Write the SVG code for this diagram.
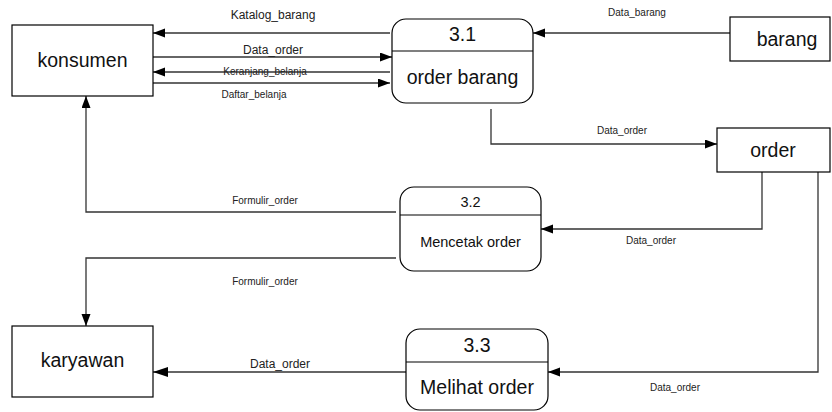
<svg xmlns="http://www.w3.org/2000/svg" width="832" height="412" viewBox="0 0 832 412">
  <style>
    .box { fill: #fff; stroke: #000; stroke-width: 1.2; }
    .flow { fill: none; stroke: #333; stroke-width: 1.3; }
    .name { font-family: "Liberation Sans", Arial, sans-serif; font-size: 19.5px; fill: #111; text-anchor: middle; }
    .pname { font-family: "Liberation Sans", Arial, sans-serif; font-size: 14.5px; fill: #111; text-anchor: middle; }
    .lbl { font-family: "Liberation Sans", Arial, sans-serif; font-size: 10px; fill: #222; text-anchor: middle; }
    .lbl12 { font-family: "Liberation Sans", Arial, sans-serif; font-size: 12px; fill: #222; text-anchor: middle; }
  </style>
  <defs>
    <marker id="arrow" markerUnits="userSpaceOnUse" markerWidth="13" markerHeight="10" refX="12" refY="4.5" orient="auto">
      <path d="M0,0 L12,4.5 L0,9 z" fill="#000"/>
    </marker>
    <marker id="arrow-lg" markerUnits="userSpaceOnUse" markerWidth="16" markerHeight="11" refX="15" refY="5" orient="auto">
      <path d="M0,0 L15,5 L0,10 z" fill="#000"/>
    </marker>
  </defs>
  <rect width="832" height="412" fill="#fff"/>

  <!-- data flows -->
  <g id="connectors">
    <path class="flow" d="M390,33 H153" marker-end="url(#arrow)"/>
    <path class="flow" d="M153,57 H392" marker-end="url(#arrow)"/>
    <path class="flow" d="M390,72 H153" marker-end="url(#arrow)"/>
    <path class="flow" d="M153,83 H390" marker-end="url(#arrow)"/>
    <path class="flow" d="M730,33 H533" marker-end="url(#arrow)"/>
    <path class="flow" d="M491,109 V144 H717" marker-end="url(#arrow)"/>
    <path class="flow" d="M762,172 V229 H541" marker-end="url(#arrow)"/>
    <path class="flow" d="M818,172 V372 H548" marker-end="url(#arrow)"/>
    <path class="flow" d="M396,212 H86 V96" marker-end="url(#arrow)"/>
    <path class="flow" d="M396,258 H86 V326" marker-end="url(#arrow)"/>
    <path class="flow" d="M406,372 H153" marker-end="url(#arrow-lg)"/>

    <text class="lbl12" x="273" y="19">Katalog_barang</text>
    <text class="lbl12" x="273" y="53.5">Data_order</text>
    <text class="lbl" x="265" y="74.5">Keranjang_belanja</text>
    <text class="lbl" x="254" y="98">Daftar_belanja</text>
    <text class="lbl" x="637" y="15.5">Data_barang</text>
    <text class="lbl" x="622" y="134">Data_order</text>
    <text class="lbl" x="651" y="243.5">Data_order</text>
    <text class="lbl" x="265" y="204">Formulir_order</text>
    <text class="lbl" x="265" y="285">Formulir_order</text>
    <text class="lbl12" x="280" y="367.5">Data_order</text>
    <text class="lbl" x="675" y="390.5">Data_order</text>
  </g>

  <!-- external entities -->
  <g id="konsumen">
    <rect class="box" x="12" y="25" width="141" height="71"/>
    <text class="name" x="82.5" y="67">konsumen</text>
  </g>
  <g id="barang">
    <rect class="box" x="730" y="17" width="100" height="44"/>
    <text class="name" x="787" y="46">barang</text>
  </g>
  <g id="karyawan">
    <rect class="box" x="12" y="326" width="141" height="71"/>
    <text class="name" x="82.5" y="367">karyawan</text>
  </g>

  <!-- data store -->
  <g id="order">
    <rect class="box" x="717" y="128" width="113" height="44"/>
    <text class="name" x="773" y="157">order</text>
  </g>

  <!-- processes -->
  <g id="p3-1">
    <rect class="box" x="392" y="19" width="141" height="84" rx="14"/>
    <line class="box" x1="392" y1="51" x2="533" y2="51"/>
    <text class="name" x="462.5" y="41">3.1</text>
    <text class="name" x="462.5" y="83.5">order barang</text>
  </g>
  <g id="p3-2">
    <rect class="box" x="400" y="187" width="141" height="84" rx="14"/>
    <line class="box" x1="400" y1="215" x2="541" y2="215"/>
    <text class="pname" x="470.5" y="207">3.2</text>
    <text class="pname" x="470.5" y="247">Mencetak order</text>
  </g>
  <g id="p3-3">
    <rect class="box" x="406" y="329" width="142" height="81" rx="14"/>
    <line class="box" x1="406" y1="362" x2="548" y2="362"/>
    <text class="name" x="477" y="352">3.3</text>
    <text class="name" x="477" y="393.5">Melihat order</text>
  </g>
</svg>
